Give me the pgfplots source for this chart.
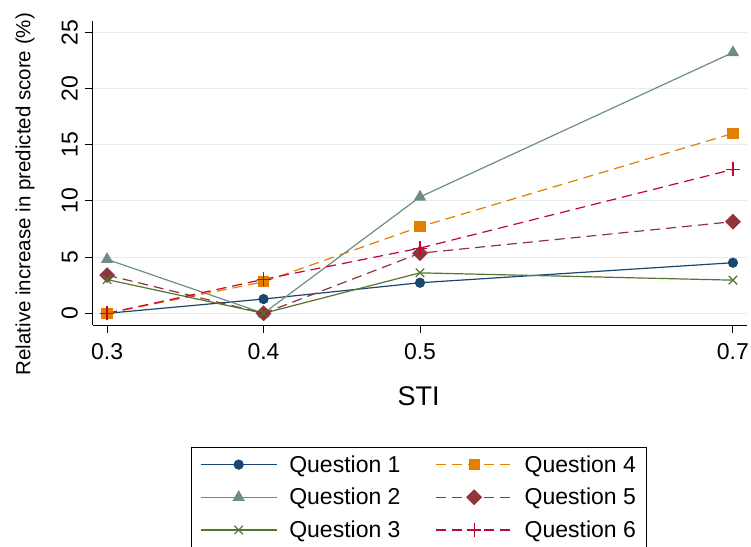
\documentclass[border=0pt]{standalone}
\usepackage{pgfplots}
\pgfplotsset{compat=1.18}
\usepackage{fontspec}
\setmainfont{Liberation Sans}
\definecolor{qnavy}{RGB}{26,71,111}
\definecolor{qteal}{RGB}{110,142,132}
\definecolor{qgreen}{RGB}{85,117,47}
\definecolor{qorange}{RGB}{227,126,0}
\definecolor{qmaroon}{RGB}{144,53,59}
\definecolor{qcran}{RGB}{193,5,52}
\definecolor{qgrid}{RGB}{228,236,239}
\begin{document}
\begin{tikzpicture}
\useasboundingbox (0pt,0pt) rectangle (751pt,546pt);
\begin{axis}[
  at={(93pt,221pt)}, anchor=south west,
  scale only axis, width=654pt, height=304.3pt,
  xmin=0.291, xmax=0.709, ymin=-1.04, ymax=26.03,
  axis x line*=bottom, axis y line*=left,
  axis line style={line width=1pt, -},
  xtick={0.3,0.4,0.5,0.7}, xticklabels={0.3,0.4,0.5,0.7},
  ytick={0,5,10,15,20,25},
  tick align=outside, major tick length=8pt,
  tick style={line width=1pt, black},
  ymajorgrids, grid style={qgrid, line width=1pt},
  /pgf/number format/assume math mode=true,
  ticklabel style={font=\fontsize{23}{27}\selectfont},
  yticklabel style={rotate=90, anchor=south, inner xsep=2pt, inner ysep=7pt},
  xticklabel style={yshift=-7pt},
  xlabel={STI},
  xlabel style={font=\fontsize{27}{31}\selectfont, at={(axis description cs:0.498,-0.233)}, anchor=center},
  ylabel={Relative increase in predicted score (\%)},
  ylabel style={font=\fontsize{20.5}{24}\selectfont, at={(axis description cs:-0.104,0.43)}, anchor=center},
  legend columns=2,
  legend cell align=left,
  legend style={at={(axis description cs:0.4985,-0.401)}, anchor=north,
    draw=black, line width=1pt, font=\fontsize{23}{27}\selectfont,
    inner xsep=9pt, inner ysep=6pt, row sep=10.5pt,
    /tikz/every odd column/.append style={column sep=10pt},
    /tikz/every even column/.append style={column sep=33pt}},
  legend image code/.code={\draw[mark repeat=2,mark phase=2,#1] plot coordinates {(0pt,0pt) (38pt,0pt) (76pt,0pt)};},
  every axis plot/.append style={line width=1.2pt},
]
\addplot[qnavy, mark=*, mark size=4.5pt, mark options={solid, fill=qnavy}]
  coordinates {(0.3,0) (0.4,1.27) (0.5,2.72) (0.7,4.5)};
\addlegendentry{Question 1}
\addplot[qorange, dash pattern=on 10pt off 6pt, mark=square*, mark size=5pt, mark options={solid, fill=qorange}]
  coordinates {(0.3,0) (0.4,2.8) (0.5,7.7) (0.7,16.0)};
\addlegendentry{Question 4}
\addplot[qteal, mark=triangle*, mark size=6pt, mark options={solid, fill=qteal}]
  coordinates {(0.3,4.8) (0.4,0) (0.5,10.35) (0.7,23.2)};
\addlegendentry{Question 2}
\addplot[qmaroon, dash pattern=on 10pt off 6pt, mark=square*, mark size=5pt, mark options={solid, fill=qmaroon, rotate=45}]
  coordinates {(0.3,3.4) (0.4,0) (0.5,5.35) (0.7,8.15)};
\addlegendentry{Question 5}
\addplot[qgreen, mark=x, mark size=6pt, mark options={solid}]
  coordinates {(0.3,3.0) (0.4,0) (0.5,3.6) (0.7,2.95)};
\addlegendentry{Question 3}
\addplot[qcran, dash pattern=on 10pt off 6pt, mark=+, mark size=7pt, mark options={solid}]
  coordinates {(0.3,0) (0.4,3.02) (0.5,5.8) (0.7,12.8)};
\addlegendentry{Question 6}
\end{axis}
\end{tikzpicture}
\end{document}
